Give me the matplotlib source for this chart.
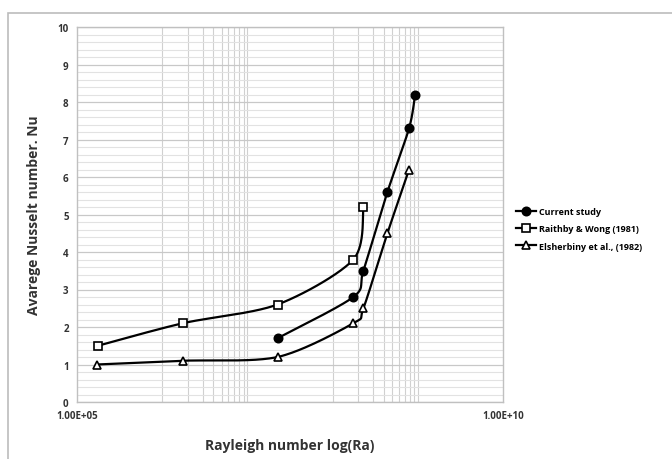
import numpy as np
import matplotlib.pyplot as plt
from matplotlib.patches import Rectangle
from matplotlib.ticker import FixedLocator, NullFormatter

plt.rcParams['font.family'] = ['Open Sans', 'DejaVu Sans']

# Nusselt number against Rayleigh number
ra_current = [2.26e7, 1.75e8, 2.3e8, 4.4e8, 7.9e8, 9.3e8]
nu_current = [1.7, 2.8, 3.5, 5.6, 7.3, 8.2]

ra_raithby = [1.76e5, 1.74e6, 2.26e7, 1.75e8, 2.3e8]
nu_raithby = [1.5, 2.1, 2.6, 3.8, 5.2]

ra_elsherbiny = [1.7e5, 1.74e6, 2.26e7, 1.75e8, 2.3e8, 4.4e8, 7.9e8]
nu_elsherbiny = [1.0, 1.1, 1.2, 2.1, 2.5, 4.5, 6.2]

labels = ['Current study', 'Raithby & Wong (1981)', 'Elsherbiny et al., (1982)']


def smooth(xs, ys, sx=85.4, sy=37.5, n=40, tension=7.0):
    # cardinal bezier through the points, worked out in log-x
    u = np.log10(np.array(xs, float)) * sx
    v = np.array(ys, float) * sy
    P = np.column_stack([u, v])
    k = len(P)
    out = []
    for i in range(k - 1):
        p0 = P[i - 1] if i > 0 else P[i]
        p3 = P[i + 2] if i + 2 < k else P[i + 1]
        b0 = P[i]
        b3 = P[i + 1]
        b1 = b0 + (b3 - p0) / tension
        b2 = b3 - (p3 - b0) / tension
        t = np.linspace(0, 1, n)[:, None]
        seg = ((1 - t) ** 3) * b0 + 3 * ((1 - t) ** 2) * t * b1 + 3 * (1 - t) * t ** 2 * b2 + t ** 3 * b3
        out.append(seg if i == 0 else seg[1:])
    c = np.vstack(out)
    return 10 ** (c[:, 0] / sx), c[:, 1] / sy


fig = plt.figure(figsize=(6.72, 4.6), dpi=100)
fig.patches.append(Rectangle((8 / 672, -0.1), 1.2, 1 - 14 / 460 + 0.1, transform=fig.transFigure,
                             fill=False, edgecolor='#bcbcbc', linewidth=1.2))
ax = fig.add_axes([77 / 672, 1 - 403 / 460, (503 - 77) / 672, (403 - 28) / 460])

ax.set_xscale('log')
ax.set_xlim(1e5, 1e10)
ax.set_ylim(0, 10)

ax.xaxis.set_major_locator(FixedLocator([1e5, 1e10]))
ax.set_xticklabels(['1.00E+05', '1.00E+10'])
minor_x = [k * 1e6 for k in range(1, 11)] + [k * 1e8 for k in range(1, 11)]
ax.xaxis.set_minor_locator(FixedLocator(minor_x))
ax.xaxis.set_minor_formatter(NullFormatter())
ax.set_yticks(range(0, 11))
ax.yaxis.set_minor_locator(FixedLocator(np.arange(0, 10.01, 0.2)))

ax.grid(which='major', axis='y', color='#c8c8c8', linewidth=0.9)
ax.grid(which='minor', axis='y', color='#e2e2e2', linewidth=0.8)
ax.grid(which='minor', axis='x', color='#d0d0d0', linewidth=0.8)
ax.tick_params(which='both', length=0)
ax.tick_params(axis='both', labelsize=7, colors='#333333', pad=6)
for lab in ax.get_xticklabels() + ax.get_yticklabels():
    lab.set_fontweight('bold')
for s in ax.spines.values():
    s.set_color('#c0c0c0')
    s.set_linewidth(1.0)

series = [
    (ra_current, nu_current, dict(marker='o', markerfacecolor='black', markersize=6)),
    (ra_raithby, nu_raithby, dict(marker='s', markerfacecolor='white', markersize=5.5)),
    (ra_elsherbiny, nu_elsherbiny, dict(marker='^', markerfacecolor='white', markersize=6)),
]
handles = []
for (xs, ys, st), lab in zip(series, labels):
    cx, cy = smooth(xs, ys)
    ax.plot(cx, cy, color='black', linewidth=1.6, zorder=3)
    ax.plot(xs, ys, linestyle='none', markeredgecolor='black', markeredgewidth=1.2, zorder=4, **st)
    h, = ax.plot([], [], color='black', linewidth=1.6, markeredgecolor='black',
                 markeredgewidth=1.2, label=lab, **st)
    handles.append(h)

ax.set_xlabel('Rayleigh number log(Ra)', fontsize=10, fontweight='bold', color='#333333', labelpad=12)
ax.set_ylabel('Avarege Nusselt number. Nu', fontsize=10, fontweight='bold', color='#333333', labelpad=12)

fig.legend(handles=handles, loc='center left', bbox_to_anchor=(508 / 672, 1 - 230 / 460),
           frameon=False, handlelength=2.2, handletextpad=0.3, labelspacing=0.9,
           prop={'weight': 'bold', 'size': 6.5})

fig.savefig('out.png', dpi=100)
